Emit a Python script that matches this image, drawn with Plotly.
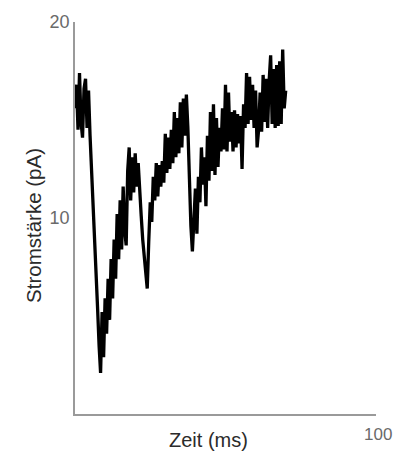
import plotly.graph_objects as go

# Sampling times (ms), every 0.5 ms
zeit_ms = [i * 0.5 for i in range(141)]

# Measured current (pA)
strom_pa = [
    15.6, 16.8, 14.5, 17.4, 14.9, 14.1, 16.6, 17.1, 14.6, 16.5,
    14.2, 12.6, 10.9, 9.0, 7.2, 5.4, 3.5, 2.1, 5.2, 2.9,
    5.9, 4.1, 6.9, 4.8, 7.9, 5.9, 8.9, 6.9, 10.2, 7.9,
    10.9, 8.4, 11.6, 9.4, 8.6, 12.4, 13.6, 10.9, 13.1, 11.3,
    13.3, 11.6, 12.8, 11.2, 10.1, 8.9, 7.9, 6.9, 6.4, 8.8,
    10.8, 9.8, 12.1, 10.9, 12.8, 11.1, 12.7, 11.6, 12.9, 11.8,
    14.3, 12.3, 14.1, 12.5, 14.5, 12.8, 15.4, 13.1, 15.1, 13.3,
    15.9, 13.6, 16.1, 14.2, 16.3, 14.6, 11.7, 9.6, 8.3, 10.1,
    11.5, 9.2, 12.1, 10.8, 13.6, 11.7, 13.1, 10.6, 14.2, 11.9,
    15.4, 12.4, 15.8, 12.2, 15.1, 12.6, 14.6, 13.4, 15.6, 13.5,
    16.8, 13.4, 16.4, 13.9, 15.4, 13.4, 15.5, 13.6, 15.3, 13.8,
    15.2, 12.5, 15.8, 14.6, 17.4, 14.8, 17.2, 15.0, 16.8, 14.6,
    16.5, 13.6, 14.5, 16.4, 14.4, 17.3, 14.9, 17.1, 14.6, 17.0,
    18.3, 14.8, 17.6, 14.6, 17.8, 14.7, 18.0, 14.8, 18.6, 15.6,
    16.5,
]

y_ticks = [10, 20]
y_tick_labels = ["10", "20"]

FONT = "Liberation Sans, Arial, sans-serif"
TICK_COLOR = "#6a6a6a"
AXIS_COLOR = "#9a9a9a"
TITLE_COLOR = "#2b2b2b"

fig = go.Figure()
fig.add_trace(go.Scatter(
    x=zeit_ms,
    y=strom_pa,
    mode="lines",
    line=dict(color="black", width=3.3),
    hoverinfo="skip",
    showlegend=False,
))

fig.update_layout(
    width=395,
    height=453,
    margin=dict(l=75, r=19, t=20, b=39),
    paper_bgcolor="white",
    plot_bgcolor="white",
    xaxis=dict(
        range=[0, 100],
        showgrid=False,
        zeroline=False,
        showline=True,
        linecolor=AXIS_COLOR,
        linewidth=1.5,
        showticklabels=False,
        ticks="",
    ),
    yaxis=dict(
        range=[0, 20],
        showgrid=False,
        zeroline=False,
        showline=True,
        linecolor=AXIS_COLOR,
        linewidth=1.5,
        tickvals=y_ticks,
        ticktext=y_tick_labels,
        ticks="",
        tickfont=dict(family=FONT, size=18, color=TICK_COLOR),
    ),
    annotations=[
        dict(
            text="100", x=100, y=0, xref="x", yref="y",
            xanchor="center", yanchor="top", yshift=-9, xshift=2,
            showarrow=False,
            font=dict(family=FONT, size=17, color=TICK_COLOR),
        ),
        dict(
            text="Zeit (ms)", x=0.445, y=-0.066, xref="paper", yref="paper",
            xanchor="center", yanchor="middle",
            showarrow=False,
            font=dict(family=FONT, size=20, color=TITLE_COLOR),
        ),
        dict(
            text="Stromstärke (pA)", x=-0.136, y=0.48, xref="paper", yref="paper",
            xanchor="center", yanchor="middle", textangle=-90,
            showarrow=False,
            font=dict(family=FONT, size=20.5, color=TITLE_COLOR),
        ),
    ],
)

fig.write_html("out.html")
